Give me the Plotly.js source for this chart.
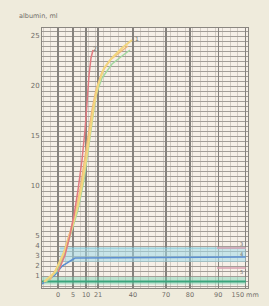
<!DOCTYPE html>
<html><head><meta charset="utf-8">
<script src="https://cdn.plot.ly/plotly-3.0.1.min.js"></script>
<style>html,body{margin:0;padding:0;background:#efebdc;}#c{width:269px;height:306px;}</style>
</head><body><div id="c"></div>
<script>
// x axis units (nonlinear paper scale), labelled by ticks
var xTickVals = [0, 2.5, 4.67, 6.67, 12.5, 18, 22, 26.7, 31.2];
var xTickText = ['0', '5', '10', '21', '40', '70', '80', '90', '150 mm'];
var yTickVals = [1, 2, 3, 4, 5, 10, 15, 20, 25];
var yTickText = ['1', '2', '3', '4', '5', '10', '15', '20', '25'];

var yellowX = [-2.33, -0.5, 1.17, 2.33, 3.33, 4, 4.67, 5.33, 6, 6.67, 7.67, 9, 10.67, 12.33];
var yellowY = [0.4, 1.4, 3.6, 5.8, 8.1, 10.1, 12.6, 15.6, 18.1, 20.1, 21.8, 22.8, 23.8, 24.6];
var orangeX = [-1.33, 0.67, 2, 3, 3.67, 4.33, 5, 5.67, 6.33, 7.33, 8.67, 10.33, 11.67];
var orangeY = [0.6, 2.8, 5.4, 7.6, 9.6, 12.1, 15.1, 17.6, 19.6, 21.4, 22.6, 23.4, 24.0];
var greenX = [-2, 0, 1.33, 2.33, 3.33, 4.33, 5, 5.67, 6.33, 7.33, 9, 10.67, 12];
var greenY = [0.4, 1.6, 3.6, 5.6, 7.6, 10.6, 13.6, 16.6, 19.1, 20.8, 22.2, 23.0, 23.6];
var redX = [0, 1.17, 2, 2.67, 3.33, 4, 4.5, 4.83, 5.17, 5.5, 5.83];
var redY = [1.4, 3.1, 5.1, 7.1, 9.6, 12.6, 15.6, 18.6, 21.1, 22.8, 23.6];
var blueX = [-2.67, -0.5, 0.67, 1.67, 2.83, 31.3];
var blueY = [0.2, 1.1, 2.0, 2.4, 2.8, 2.9];
var cyanX = [0.3, 31.3];
var cyanLow = [2.4, 2.4];
var cyanHigh = [3.8, 3.8];
var tealX = [-2.67, 31.3];
var tealLow = [0.15, 0.15];
var tealHigh = [0.9, 0.9];
var tealY = [0.45, 0.45];
var pinkX = [26.5, 31.3];
var pinkY1 = [1.8, 1.8];
var pinkY2 = [3.8, 3.8];

var traces = [
  {x: cyanX, y: cyanLow, mode: 'lines', line: {color: 'rgba(0,0,0,0)', width: 0}},
  {x: cyanX, y: cyanHigh, mode: 'lines', fill: 'tonexty', fillcolor: 'rgba(160,218,232,0.55)', line: {color: 'rgba(120,200,220,0.9)', width: 1}},
  {x: tealX, y: tealLow, mode: 'lines', line: {color: 'rgba(0,0,0,0)', width: 0}},
  {x: tealX, y: tealHigh, mode: 'lines', fill: 'tonexty', fillcolor: 'rgba(120,210,180,0.45)', line: {color: 'rgba(0,0,0,0)', width: 0}},
  {x: tealX, y: tealY, mode: 'lines', line: {color: '#3aa57c', width: 2}},
  {x: pinkX, y: pinkY1, mode: 'lines', line: {color: '#d9a0b0', width: 1.5}},
  {x: pinkX, y: pinkY2, mode: 'lines', line: {color: '#d9a0b0', width: 1.5}},
  {x: blueX, y: blueY, mode: 'lines', line: {color: '#5c8fd0', width: 1.5}},
  {x: greenX, y: greenY, mode: 'lines', line: {color: '#a3d9a0', width: 1.5}},
  {x: orangeX, y: orangeY, mode: 'lines', line: {color: '#f0b878', width: 1.5}},
  {x: yellowX, y: yellowY, mode: 'lines', line: {color: '#f3d67e', width: 2}},
  {x: redX, y: redY, mode: 'lines', line: {color: '#e07a80', width: 1.5}}
];

var layout = {
  width: 269, height: 306,
  paper_bgcolor: '#efebdc',
  plot_bgcolor: '#f6f0e8',
  showlegend: false,
  margin: {l: 42, r: 21, t: 28, b: 18},
  font: {family: 'DejaVu Sans, sans-serif', size: 7, color: '#6f6c68'},
  xaxis: {
    range: [-2.67, 31.67], tickvals: xTickVals, ticktext: xTickText,
    showgrid: true, gridcolor: '#86827d', gridwidth: 1.2,
    minor: {dtick: 1.25, showgrid: true, gridcolor: '#d3ccc4', gridwidth: 1},
    zeroline: false, ticks: '', showline: true, linecolor: '#8a8680', mirror: true,
    tickfont: {size: 6.5, color: '#6f6c68'}
  },
  yaxis: {
    range: [-0.2, 25.8], tickvals: yTickVals, ticktext: yTickText,
    showgrid: false,
    minor: {dtick: 0.5, showgrid: true, gridcolor: '#a29d97', gridwidth: 1},
    zeroline: false, ticks: '', showline: true, linecolor: '#8a8680', mirror: true,
    tickfont: {size: 7, color: '#6f6c68'}
  },
  annotations: [
    {text: 'albumin, ml', x: -0.12, y: 1.07, xref: 'paper', yref: 'paper', xanchor: 'left', showarrow: false, font: {size: 6.5, color: '#6f6c68'}},
    {text: '1', xref: 'x', yref: 'y', x: 13.2, y: 24.8, showarrow: false, font: {size: 6, color: '#6f6c68'}},
    {text: '2', xref: 'x', yref: 'y', x: 6.1, y: 23.8, showarrow: false, font: {size: 6, color: '#6f6c68'}},
    {text: '3', xref: 'x', yref: 'y', x: 30.6, y: 4.2, showarrow: false, font: {size: 5, color: '#6f6c68'}},
    {text: '4', xref: 'x', yref: 'y', x: 30.6, y: 3.2, showarrow: false, font: {size: 5, color: '#6f6c68'}},
    {text: '5', xref: 'x', yref: 'y', x: 30.6, y: 1.4, showarrow: false, font: {size: 5, color: '#6f6c68'}}
  ]
};
Plotly.newPlot('c', traces, layout, {staticPlot: true, displayModeBar: false});
</script></body></html>
